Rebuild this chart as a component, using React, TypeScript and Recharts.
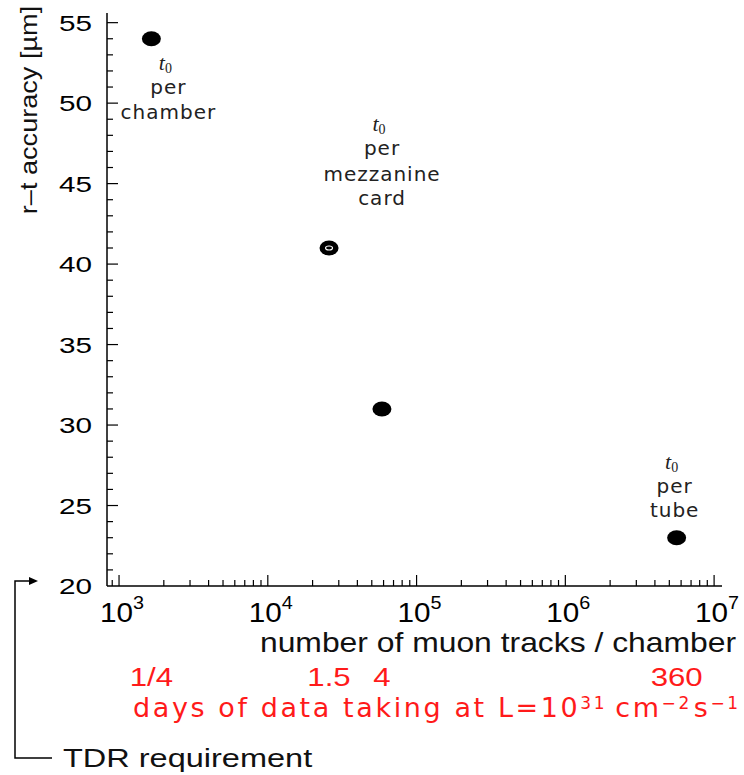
import React from 'react';
import { ScatterChart, Scatter, XAxis, YAxis, Label } from 'recharts';

// ---- data ----
const trackCounts = [1650, 25800, 58500, 5600000];
const accuracy = [54, 41, 31, 23];
const daysLabels = ['1/4', '1.5', '4', '360'];
const annotationLines: string[][] = [['per', 'chamber'], ['per', 'mezzanine', 'card'], [], ['per', 'tube']];
const hollowMarker = [false, true, false, false];

const xTicks = [
  900, 1000, 2000, 3000, 4000, 5000, 6000, 7000, 8000, 9000,
  10000, 20000, 30000, 40000, 50000, 60000, 70000, 80000, 90000,
  100000, 200000, 300000, 400000, 500000, 600000, 700000, 800000, 900000,
  1000000, 2000000, 3000000, 4000000, 5000000, 6000000, 7000000, 8000000, 9000000,
  10000000,
];
const xMajorLabels: Record<number, string> = { 1000: '3', 10000: '4', 100000: '5', 1000000: '6', 10000000: '7' };
const yTicks = [
  20, 21, 22, 23, 24, 25, 26, 27, 28, 29, 30, 31, 32, 33, 34, 35, 36, 37,
  38, 39, 40, 41, 42, 43, 44, 45, 46, 47, 48, 49, 50, 51, 52, 53, 54, 55,
];

const rows = trackCounts.map((x, i) => ({
  x,
  y: accuracy[i],
  days: daysLabels[i],
  note: annotationLines[i],
  hollow: hollowMarker[i],
  id: i,
}));

// ---- styles ----
const SANS = '"Liberation Sans", Arial, sans-serif';
const DEJA = '"DejaVu Sans", sans-serif';
const RED = '#ff1a1a';
const ANNOT_OFFSET: ({ dx: number; dy: number; steps: number[] } | null)[] = [
  { dx: 17, dy: 31, steps: [24, 25] },
  { dx: 53, dy: -117, steps: [24, 26, 24] },
  null,
  { dx: -2, dy: -69, steps: [24, 24] },
];
const DAYS_BASELINE = 686;

const XTick = (props: any) => {
  const { x, y, payload } = props;
  const v = payload.value;
  const exp = xMajorLabels[v];
  const len = exp ? 11 : 6;
  return (
    <g>
      <line x1={x} y1={y} x2={x} y2={y - len} stroke="#000" strokeWidth={1.2} />
      {exp && (
        <g transform={`translate(${x + 3},${y + 36}) scale(1.1,1)`}>
          <text x={0} y={0} textAnchor="middle" fontFamily={SANS} fontSize={27} fill="#000">
            10<tspan dy={-13} fontSize={18}>{exp}</tspan>
          </text>
        </g>
      )}
    </g>
  );
};

const YTick = (props: any) => {
  const { x, y, payload } = props;
  const v = payload.value;
  const major = v % 5 === 0;
  return (
    <g>
      {v !== 20 && <line x1={x} y1={y} x2={x + (major ? 11 : 6)} y2={y} stroke="#000" strokeWidth={1.2} />}
      {major && (
        <g transform={`translate(${x - 15},${y + 8}) scale(1.35,1)`}>
          <text x={0} y={0} textAnchor="end" fontFamily={SANS} fontSize={22} fill="#000">
            {v}
          </text>
        </g>
      )}
    </g>
  );
};

const PointShape = (props: any) => {
  const { cx, cy, payload } = props;
  if (cx == null || cy == null) return null;
  const off = ANNOT_OFFSET[payload.id];
  const lines: { text: string; y: number }[] = [];
  if (off && payload.note.length) {
    let yy = cy + off.dy;
    payload.note.forEach((t: string, i: number) => {
      yy += off.steps[i];
      lines.push({ text: t, y: yy });
    });
  }
  return (
    <g>
      <ellipse cx={cx} cy={cy} rx={9.5} ry={7.5} fill="#000" />
      {payload.hollow && <ellipse cx={cx} cy={cy} rx={3.5} ry={2} fill="none" stroke="#fff" strokeWidth={1.1} />}
      {off && (
        <g>
          <text x={cx + off.dx - 3} y={cy + off.dy} textAnchor="middle" fontFamily='"Liberation Serif", serif' fontStyle="italic" fontSize={22} fill="#222">
            t<tspan dy={3} fontStyle="normal" fontSize={14}>0</tspan>
          </text>
          {lines.map((l, i) => (
            <text key={i} x={cx + off.dx} y={l.y} textAnchor="middle" fontFamily={DEJA} fontSize={20} letterSpacing={1} fill="#222">
              {l.text}
            </text>
          ))}
        </g>
      )}
      <g transform={`translate(${cx},${DAYS_BASELINE}) scale(1.2,1)`}>
        <text x={0} y={0} textAnchor="middle" fontFamily={SANS} fontSize={26} fill={RED}>
          {payload.days}
        </text>
      </g>
    </g>
  );
};

export default function App() {
  return (
    <div style={{ position: 'absolute', left: 0, top: 0, width: 744, height: 775, background: '#fff' }}>
      <ScatterChart width={744} height={775} margin={{ top: 13, right: 22, left: 47, bottom: 149 }}>
        <XAxis
          type="number"
          dataKey="x"
          scale="log"
          domain={[830, 11300000]}
          ticks={xTicks}
          interval={0}
          tickSize={0}
          tickMargin={0}
          tickLine={false}
          tick={<XTick />}
          axisLine={{ stroke: '#000', strokeWidth: 1.5 }}
          height={40}
        >
          <Label
            content={() => (
              <g transform="translate(498,652) scale(1.18,1)">
                <text x={0} y={0} textAnchor="middle" fontFamily={SANS} fontSize={27} fill="#111">
                  number of muon tracks / chamber
                </text>
              </g>
            )}
          />
        </XAxis>
        <YAxis
          type="number"
          dataKey="y"
          domain={[20, 55.6]}
          ticks={yTicks}
          interval={0}
          tickSize={0}
          tickMargin={0}
          tickLine={false}
          tick={<YTick />}
          axisLine={{ stroke: '#000', strokeWidth: 1.5 }}
          width={60}
        >
          <Label
            content={() => (
              <g transform="translate(37,110) rotate(-90) scale(1.13,1)">
                <text x={0} y={0} textAnchor="middle" fontFamily={SANS} fontSize={24} fill="#111">
                  r–t accuracy [µm]
                </text>
              </g>
            )}
          />
        </YAxis>
        <Scatter data={rows} isAnimationActive={false} shape={<PointShape />} />
      </ScatterChart>
      <svg width={744} height={775} style={{ position: 'absolute', left: 0, top: 0, pointerEvents: 'none' }}>
        <text x={133} y={717} fill={RED} fontFamily={DEJA} fontSize={27} letterSpacing={2.6}>
          days of data taking at L=10<tspan dy={-8} fontSize={17}>31</tspan>
          <tspan dy={8} dx={8}>cm</tspan>
          <tspan dy={-8} fontSize={17}>−2</tspan>
          <tspan dy={8} dx={2}>s</tspan>
          <tspan dy={-8} fontSize={17}>−1</tspan>
        </text>
        <path d="M52,758 H15 V581 H30" fill="none" stroke="#000" strokeWidth={1.5} />
        <polygon points="29,577 38,581 29,585" fill="#000" />
        <g transform="translate(63,767) scale(1.25,1)">
          <text x={0} y={0} fontFamily={SANS} fontSize={26} fill="#111">
            TDR requirement
          </text>
        </g>
      </svg>
    </div>
  );
}
